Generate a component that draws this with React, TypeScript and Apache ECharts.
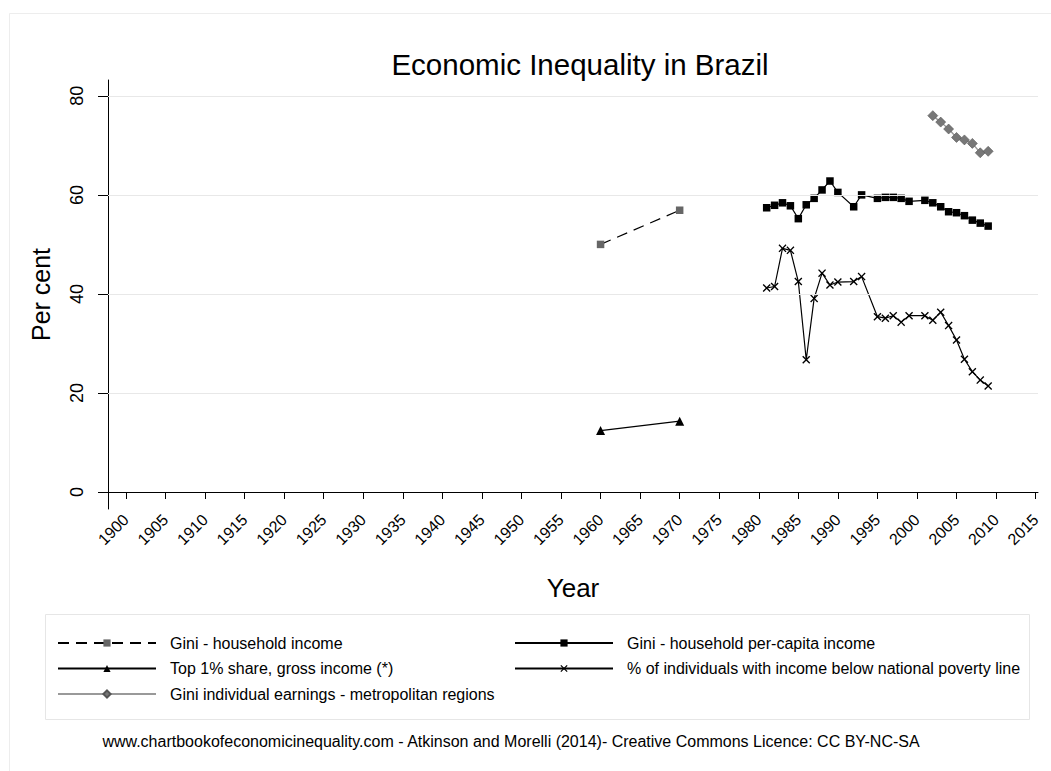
import React, { useEffect, useRef } from "react";
import * as echarts from "echarts";

const titleText = "Economic Inequality in Brazil";
const footerText =
  "www.chartbookofeconomicinequality.com - Atkinson and Morelli (2014)- Creative Commons Licence: CC BY-NC-SA";

const xTicks = [
  1900, 1905, 1910, 1915, 1920, 1925, 1930, 1935, 1940, 1945, 1950, 1955, 1960,
  1965, 1970, 1975, 1980, 1985, 1990, 1995, 2000, 2005, 2010, 2015,
];
const yTicks = [0, 20, 40, 60, 80];
const gridValues = [20, 40, 60, 80];

const nameGiniHh = "Gini - household income";
const namePerCapita = "Gini - household per-capita income";
const nameTop1 = "Top 1% share, gross income (*)";
const namePoverty = "% of individuals with income below national poverty line";
const nameMetro = "Gini individual earnings - metropolitan regions";

const giniHhYears = [1960, 1970];
const giniHhValues = [50.0, 56.9];

const top1Years = [1960, 1970];
const top1Values = [12.4, 14.3];

const perCapitaYears = [
  1981, 1982, 1983, 1984, 1985, 1986, 1987, 1988, 1989, 1990, 1992, 1993, 1995,
  1996, 1997, 1998, 1999, 2001, 2002, 2003, 2004, 2005, 2006, 2007, 2008, 2009,
];
const perCapitaValues = [
  57.4, 57.9, 58.4, 57.8, 55.2, 58.0, 59.3, 61.0, 62.8, 60.5, 57.6, 60.0, 59.3,
  59.5, 59.5, 59.3, 58.7, 58.9, 58.4, 57.6, 56.6, 56.4, 55.8, 54.9, 54.3, 53.7,
];

const povertyYears = [
  1981, 1982, 1983, 1984, 1985, 1986, 1987, 1988, 1989, 1990, 1992, 1993, 1995,
  1996, 1997, 1998, 1999, 2001, 2002, 2003, 2004, 2005, 2006, 2007, 2008, 2009,
];
const povertyValues = [
  41.2, 41.5, 49.2, 48.8, 42.5, 26.7, 39.1, 44.2, 41.8, 42.4, 42.5, 43.5, 35.4,
  35.1, 35.6, 34.3, 35.6, 35.6, 34.7, 36.3, 33.6, 30.7, 26.8, 24.3, 22.6, 21.4,
];

const metroYears = [2002, 2003, 2004, 2005, 2006, 2007, 2008, 2009];
const metroValues = [76.0, 74.7, 73.3, 71.6, 71.1, 70.4, 68.5, 68.8];

const zip = (xs: number[], ys: number[]) => xs.map((x, i) => [x, ys[i]]);

const FONT = "'Liberation Sans', Arial, Helvetica, sans-serif";
const X_SYMBOL =
  "path://M0,1.2 L1.2,0 L5,3.8 L8.8,0 L10,1.2 L6.2,5 L10,8.8 L8.8,10 L5,6.2 L1.2,10 L0,8.8 L3.8,5 Z";

export default function App() {
  const ref = useRef<HTMLDivElement>(null);

  useEffect(() => {
    if (!ref.current) return;
    const chart = echarts.init(ref.current, undefined, { renderer: "svg" });

    const legendCommon = {
      orient: "vertical" as const,
      itemWidth: 98,
      itemHeight: 9,
      itemGap: 9.5,
      padding: 0,
      selectedMode: false,
      textStyle: {
        fontFamily: FONT,
        fontSize: 16,
        color: "#000",
        padding: [0, 0, 0, 9],
      },
    };

    const staticGraphics: any[] = [
      {
        type: "rect",
        silent: true,
        shape: { x: 9.5, y: 13.5, width: 1200, height: 900 },
        style: { fill: "none", stroke: "#ededed", lineWidth: 1 },
        z: -10,
      },
      {
        type: "rect",
        silent: true,
        shape: { x: 45.5, y: 614.5, width: 984, height: 105 },
        style: { fill: "none", stroke: "#e6e6e6", lineWidth: 1 },
        z: -10,
      },
      {
        type: "text",
        silent: true,
        x: 511,
        y: 741,
        style: {
          text: footerText,
          fontFamily: FONT,
          fontSize: 16,
          fill: "#000",
          textAlign: "center",
          textVerticalAlign: "middle",
        },
      },
    ];

    const option: any = {
      animation: false,
      backgroundColor: "#fff",
      title: {
        text: titleText,
        left: 575,
        top: 44,
        textAlign: "center",
        textStyle: {
          fontFamily: FONT,
          fontSize: 29.5,
          fontWeight: "normal",
          color: "#000",
        },
      },
      grid: {
        left: 108,
        right: 13,
        top: 80,
        bottom: 262,
        containLabel: false,
      },
      xAxis: {
        type: "value",
        min: 1897.73,
        max: 2015.3,
        name: "Year",
        nameLocation: "middle",
        nameGap: 66,
        nameTextStyle: { fontFamily: FONT, fontSize: 26, color: "#000" },
        axisLine: { show: true, lineStyle: { color: "#000", width: 1 } },
        axisTick: {
          show: true,
          length: 7,
          customValues: xTicks,
          lineStyle: { color: "#000" },
        },
        axisLabel: {
          customValues: xTicks,
          rotate: 45,
          margin: 8,
          fontFamily: FONT,
          fontSize: 16,
          color: "#000",
          formatter: (v: number) => String(Math.round(v)),
        },
        splitLine: { show: false },
      },
      yAxis: {
        type: "value",
        min: -3.43,
        max: 83.2,
        name: "Per cent",
        nameLocation: "middle",
        nameGap: 55,
        nameRotate: 90,
        nameTextStyle: { fontFamily: FONT, fontSize: 25, color: "#000" },
        axisLine: { show: true, lineStyle: { color: "#000", width: 1 } },
        axisTick: {
          show: true,
          length: 10,
          customValues: yTicks,
          lineStyle: { color: "#000" },
        },
        axisLabel: { show: false },
        splitLine: { show: false },
      },
      legend: [
        {
          ...legendCommon,
          left: 57,
          top: 635,
          data: [nameGiniHh, nameTop1, nameMetro],
        },
        {
          ...legendCommon,
          left: 514,
          top: 635,
          data: [namePerCapita, namePoverty],
        },
      ],
      graphic: staticGraphics,
      series: [
        {
          name: "grid",
          type: "line",
          data: [],
          silent: true,
          markLine: {
            silent: true,
            symbol: ["none", "none"],
            label: { show: false },
            lineStyle: { color: "#e8e8e8", width: 1, type: "solid" },
            data: gridValues.map((v) => ({ yAxis: v })),
          },
          z: 0,
        },
        {
          name: nameGiniHh,
          type: "line",
          data: zip(giniHhYears, giniHhValues),
          symbol: "rect",
          symbolSize: 7.5,
          itemStyle: { color: "#666666" },
          lineStyle: { color: "#000", width: 1.2, type: [11, 7] },
          z: 3,
        },
        {
          name: namePerCapita,
          type: "line",
          data: zip(perCapitaYears, perCapitaValues),
          symbol: "rect",
          symbolSize: 7.5,
          itemStyle: { color: "#000" },
          lineStyle: { color: "#000", width: 1.2 },
          z: 3,
        },
        {
          name: nameTop1,
          type: "line",
          data: zip(top1Years, top1Values),
          symbol: "triangle",
          symbolSize: 9,
          itemStyle: { color: "#000" },
          lineStyle: { color: "#000", width: 1.2 },
          z: 3,
        },
        {
          name: namePoverty,
          type: "line",
          data: zip(povertyYears, povertyValues),
          symbol: X_SYMBOL,
          symbolSize: 8,
          itemStyle: { color: "#000" },
          lineStyle: { color: "#000", width: 1.2 },
          z: 3,
        },
        {
          name: nameMetro,
          type: "line",
          data: zip(metroYears, metroValues),
          symbol: "diamond",
          symbolSize: 10,
          itemStyle: { color: "#777777", borderColor: "#555", borderWidth: 0.6 },
          lineStyle: { color: "#999999", width: 1.4 },
          z: 3,
        },
      ],
    };

    chart.setOption(option);

    // y tick labels, rotated, positioned through the axis scale
    const yLabelGraphics = yTicks.map((v) => {
      const py = chart.convertToPixel({ yAxisIndex: 0 }, v) as number;
      return {
        type: "text",
        silent: true,
        x: 77,
        y: py,
        rotation: Math.PI / 2,
        style: {
          text: String(v),
          fontFamily: FONT,
          fontSize: 18,
          fill: "#000",
          textAlign: "center",
          textVerticalAlign: "middle",
        },
      };
    });
    chart.setOption({ graphic: [...staticGraphics, ...yLabelGraphics] });

    return () => chart.dispose();
  }, []);

  return (
    <div
      ref={ref}
      style={{ position: "fixed", left: 0, top: 0, width: 1051, height: 771 }}
    />
  );
}
